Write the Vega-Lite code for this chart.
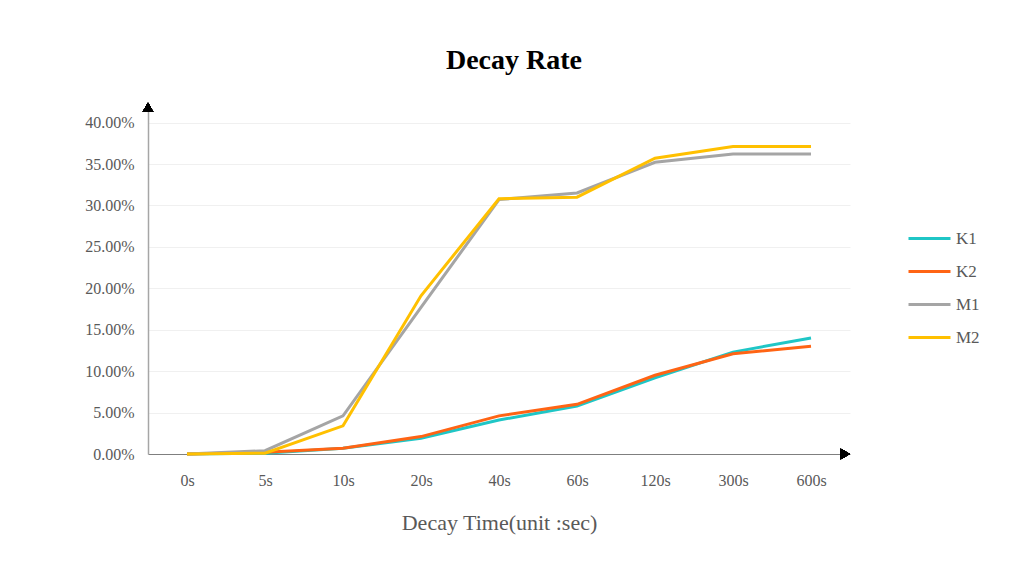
{
  "$schema": "https://vega.github.io/schema/vega-lite/v6.json",
  "autosize": {"type": "none"},
  "padding": {"left": 148, "top": 106, "right": 174, "bottom": 112},
  "width": 702,
  "height": 348,
  "background": "white",
  "title": {
    "text": "Decay Rate",
    "font": "Liberation Serif",
    "fontSize": 28,
    "fontWeight": "bold",
    "color": "#000000",
    "offset": 28,
    "dx": 15
  },
  "config": {
    "view": {"stroke": null},
    "axis": {
      "labelFont": "Liberation Serif",
      "labelFontSize": 16,
      "labelColor": "#595959",
      "titleFont": "Liberation Serif",
      "titleFontWeight": "normal",
      "titleColor": "#595959"
    }
  },
  "data": {
    "values": [
      {"time": "0s", "idx": 0, "series": "K1", "rate": 0.0},
      {"time": "5s", "idx": 1, "series": "K1", "rate": 0.001},
      {"time": "10s", "idx": 2, "series": "K1", "rate": 0.007},
      {"time": "20s", "idx": 3, "series": "K1", "rate": 0.019},
      {"time": "40s", "idx": 4, "series": "K1", "rate": 0.041},
      {"time": "60s", "idx": 5, "series": "K1", "rate": 0.058},
      {"time": "120s", "idx": 6, "series": "K1", "rate": 0.092},
      {"time": "300s", "idx": 7, "series": "K1", "rate": 0.123},
      {"time": "600s", "idx": 8, "series": "K1", "rate": 0.140},
      {"time": "0s", "idx": 0, "series": "K2", "rate": 0.0},
      {"time": "5s", "idx": 1, "series": "K2", "rate": 0.002},
      {"time": "10s", "idx": 2, "series": "K2", "rate": 0.007},
      {"time": "20s", "idx": 3, "series": "K2", "rate": 0.021},
      {"time": "40s", "idx": 4, "series": "K2", "rate": 0.046},
      {"time": "60s", "idx": 5, "series": "K2", "rate": 0.060},
      {"time": "120s", "idx": 6, "series": "K2", "rate": 0.095},
      {"time": "300s", "idx": 7, "series": "K2", "rate": 0.121},
      {"time": "600s", "idx": 8, "series": "K2", "rate": 0.130},
      {"time": "0s", "idx": 0, "series": "M1", "rate": 0.0},
      {"time": "5s", "idx": 1, "series": "M1", "rate": 0.004},
      {"time": "10s", "idx": 2, "series": "M1", "rate": 0.046},
      {"time": "20s", "idx": 3, "series": "M1", "rate": 0.177},
      {"time": "40s", "idx": 4, "series": "M1", "rate": 0.307},
      {"time": "60s", "idx": 5, "series": "M1", "rate": 0.315},
      {"time": "120s", "idx": 6, "series": "M1", "rate": 0.352},
      {"time": "300s", "idx": 7, "series": "M1", "rate": 0.362},
      {"time": "600s", "idx": 8, "series": "M1", "rate": 0.362},
      {"time": "0s", "idx": 0, "series": "M2", "rate": 0.0},
      {"time": "5s", "idx": 1, "series": "M2", "rate": 0.001},
      {"time": "10s", "idx": 2, "series": "M2", "rate": 0.034},
      {"time": "20s", "idx": 3, "series": "M2", "rate": 0.191},
      {"time": "40s", "idx": 4, "series": "M2", "rate": 0.308},
      {"time": "60s", "idx": 5, "series": "M2", "rate": 0.310},
      {"time": "120s", "idx": 6, "series": "M2", "rate": 0.357},
      {"time": "300s", "idx": 7, "series": "M2", "rate": 0.371},
      {"time": "600s", "idx": 8, "series": "M2", "rate": 0.371}
    ]
  },
  "layer": [
    {
      "mark": {"type": "line", "strokeWidth": 3},
      "encoding": {
        "x": {
          "field": "idx",
          "type": "quantitative",
          "scale": {"domain": [-0.5, 8.5], "nice": false, "zero": false},
          "axis": {
            "values": [0, 1, 2, 3, 4, 5, 6, 7, 8],
            "labelExpr": "['0s','5s','10s','20s','40s','60s','120s','300s','600s'][datum.value]",
            "ticks": false,
            "grid": false,
            "domainColor": "#7f7f7f",
            "domainWidth": 1.2,
            "labelPadding": 18,
            "title": "Decay Time(unit :sec)",
            "titleFontSize": 22,
            "titlePadding": 24
          }
        },
        "y": {
          "field": "rate",
          "type": "quantitative",
          "scale": {"domain": [0, 0.42], "nice": false},
          "axis": {
            "values": [0, 0.05, 0.1, 0.15, 0.2, 0.25, 0.3, 0.35, 0.4],
            "format": ".2%",
            "ticks": false,
            "grid": true,
            "gridColor": "#f0f0f0",
            "gridWidth": 1,
            "domainColor": "#a6a6a6",
            "domainWidth": 1.5,
            "labelPadding": 14,
            "title": null
          }
        },
        "color": {
          "field": "series",
          "type": "nominal",
          "scale": {
            "domain": ["K1", "K2", "M1", "M2"],
            "range": ["#1fc6c6", "#ff6414", "#a5a5a5", "#ffc000"]
          },
          "legend": {
            "title": null,
            "orient": "none",
            "legendX": 759,
            "legendY": 110,
            "symbolType": "stroke",
            "symbolSize": 1764,
            "symbolStrokeWidth": 3,
            "rowPadding": 2,
            "labelFont": "Liberation Serif",
            "labelFontSize": 17,
            "labelColor": "#595959",
            "labelOffset": 4
          }
        }
      }
    },
    {
      "mark": {"type": "point", "shape": "triangle-up", "filled": true, "color": "#000000", "size": 110, "opacity": 1},
      "encoding": {
        "x": {"datum": -0.5, "type": "quantitative"},
        "y": {"datum": 0.4185, "type": "quantitative"}
      }
    },
    {
      "mark": {"type": "point", "shape": "triangle-right", "filled": true, "color": "#000000", "size": 110, "opacity": 1},
      "encoding": {
        "x": {"datum": 8.44, "type": "quantitative"},
        "y": {"datum": 0, "type": "quantitative"}
      }
    }
  ]
}
